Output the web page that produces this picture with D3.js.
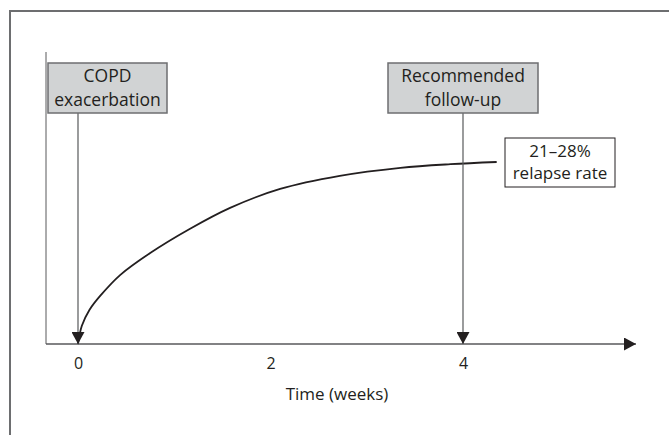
<!DOCTYPE html>
<html>
<head>
<meta charset="utf-8">
<script src="https://cdn.jsdelivr.net/npm/d3@7"></script>
<style>
  body { margin: 0; background: #fff; }
  text { font-family: "Open Sans", "Noto Sans", sans-serif; fill: #231f20; }
</style>
</head>
<body>
<div id="chart"></div>
<script>
// data
let tickWeeks = [0, 2, 4];
let eventWeeks = [0, 4];
let eventLabels = [["COPD", "exacerbation"], ["Recommended", "follow-up"]];
let curveWeeks =   [0, 0.04, 0.12, 0.23, 0.44, 0.75, 1.16, 1.58, 2.1, 2.72, 3.35, 3.87, 4.35];
let curveRelapse = [0, 2.5, 4.7, 6.6, 9.5, 12.5, 15.8, 18.7, 21.3, 23.1, 24.2, 24.7, 25];
let relapseLabel = ["21\u201328%", "relapse rate"];
let xTitle = "Time (weeks)";

let width = 669, height = 435;
let svg = d3.select("#chart").append("svg")
    .attr("width", width).attr("height", height);

// outer frame (runs off the right/bottom edge)
svg.append("rect").attr("x", 10).attr("y", 11)
    .attr("width", 700).attr("height", 500)
    .attr("fill", "none").attr("stroke", "#6d6e70").attr("stroke-width", 2);

let x = d3.scaleLinear().domain([0, 4]).range([78, 463]);
let y = d3.scaleLinear().domain([0, 25]).range([344, 162]);
let axisLeft = 46, axisEnd = 636;

// arrow markers
let defs = svg.append("defs");
defs.append("marker").attr("id", "tri")
    .attr("viewBox", "0 0 12 13").attr("refX", 12).attr("refY", 6.5)
    .attr("markerWidth", 12).attr("markerHeight", 13)
    .attr("markerUnits", "userSpaceOnUse").attr("orient", "auto")
    .append("path").attr("d", "M0,0L12,6.5L0,13Z").attr("fill", "#231f20");

// y axis (plain line)
svg.append("line").attr("x1", axisLeft).attr("x2", axisLeft)
    .attr("y1", 52).attr("y2", y(0))
    .attr("stroke", "#58595b").attr("stroke-width", 1);

// x axis
let xAxis = d3.axisBottom(x).tickValues(tickWeeks).tickFormat(d3.format("d"))
    .tickSize(0).tickPadding(14);
let gx = svg.append("g").attr("transform", "translate(0," + y(0) + ")").call(xAxis);
gx.select(".domain").remove();
gx.selectAll("text").style("font-size", "16px")
    .style("font-family", "'Open Sans', sans-serif").attr("fill", "#231f20");
svg.append("line").attr("x1", axisLeft).attr("x2", axisEnd)
    .attr("y1", y(0)).attr("y2", y(0))
    .attr("stroke", "#58595b").attr("stroke-width", 1.5)
    .attr("marker-end", "url(#tri)");

svg.append("text").attr("x", 337).attr("y", 400)
    .attr("text-anchor", "middle").style("font-size", "17px").text(xTitle);

// relapse curve
let line = d3.line().x((d, i) => x(curveWeeks[i])).y(d => y(d))
    .curve(d3.curveCatmullRom.alpha(0.5));
svg.append("path").datum(curveRelapse).attr("d", line)
    .attr("fill", "none").attr("stroke", "#231f20").attr("stroke-width", 1.8);

// event boxes and arrows
let boxLeft = [48, 388], boxW = [119, 150], boxTop = 63, boxH = 50;
eventWeeks.forEach((w, i) => {
    svg.append("line").attr("x1", x(w)).attr("x2", x(w))
        .attr("y1", boxTop + boxH).attr("y2", y(0))
        .attr("stroke", "#58595b").attr("stroke-width", 1.2)
        .attr("marker-end", "url(#tri)");
    svg.append("rect").attr("x", boxLeft[i]).attr("y", boxTop)
        .attr("width", boxW[i]).attr("height", boxH)
        .attr("fill", "#d1d3d4").attr("stroke", "#6d6e70").attr("stroke-width", 1.5);
    eventLabels[i].forEach((t, j) => {
        svg.append("text").attr("x", boxLeft[i] + boxW[i] / 2).attr("y", boxTop + 19 + j * 24)
            .attr("text-anchor", "middle").style("font-size", "17.5px").text(t);
    });
});

// relapse rate box
let rb = {x: 505, y: 138, w: 110, h: 49};
svg.append("rect").attr("x", rb.x).attr("y", rb.y).attr("width", rb.w).attr("height", rb.h)
    .attr("fill", "#fff").attr("stroke", "#231f20").attr("stroke-width", 1);
relapseLabel.forEach((t, j) => {
    svg.append("text").attr("x", rb.x + rb.w / 2).attr("y", rb.y + 19 + j * 22)
        .attr("text-anchor", "middle").style("font-size", "17px").text(t);
});
</script>
</body>
</html>
